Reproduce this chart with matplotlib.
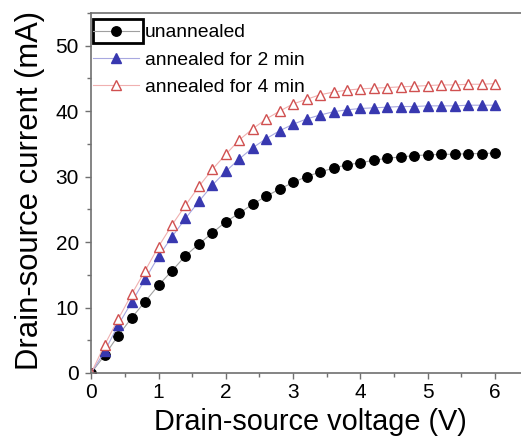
import matplotlib
matplotlib.use("Agg")
import matplotlib.pyplot as plt
from matplotlib.patches import Rectangle
from matplotlib.ticker import MultipleLocator

plt.rcParams['font.family'] = ['Liberation Sans', 'DejaVu Sans']

# drain-source voltage (V)
voltage = [0.0, 0.2, 0.4, 0.6, 0.8, 1.0, 1.2, 1.4, 1.6, 1.8, 2.0,
           2.2, 2.4, 2.6, 2.8, 3.0, 3.2, 3.4, 3.6, 3.8, 4.0,
           4.2, 4.4, 4.6, 4.8, 5.0, 5.2, 5.4, 5.6, 5.8, 6.0]

# drain-source current (mA)
unannealed = [0.0, 2.7, 5.7, 8.4, 10.9, 13.4, 15.6, 17.9, 19.7, 21.4, 23.1,
              24.4, 25.8, 27.0, 28.1, 29.1, 30.0, 30.7, 31.3, 31.8, 32.1,
              32.5, 32.8, 33.0, 33.2, 33.3, 33.4, 33.4, 33.5, 33.5, 33.6]
annealed_2min = [0.0, 3.3, 7.3, 10.8, 14.3, 17.8, 20.8, 23.6, 26.2, 28.7, 30.8,
                 32.7, 34.4, 35.8, 37.0, 38.0, 38.8, 39.4, 39.9, 40.2, 40.4,
                 40.5, 40.6, 40.7, 40.7, 40.8, 40.8, 40.8, 40.9, 40.9, 40.9]
annealed_4min = [0.0, 4.3, 8.2, 12.0, 15.6, 19.3, 22.6, 25.6, 28.5, 31.1, 33.4,
                 35.6, 37.3, 38.8, 40.0, 41.1, 41.8, 42.5, 42.9, 43.2, 43.4,
                 43.5, 43.6, 43.7, 43.8, 43.9, 44.0, 44.0, 44.1, 44.1, 44.2]

fig = plt.figure(figsize=(5.21, 4.37), dpi=100)
# right spine falls just outside the picture, as in the original crop
ax = fig.add_axes([0.175, 0.1465, 0.840, 0.824])

ax.plot(voltage, unannealed, '-', color='#a0a0a0', lw=0.8,
        marker='o', ms=6.8, mfc='black', mec='black', label='unannealed')
ax.plot(voltage, annealed_2min, '-', color='#a8a8e0', lw=0.8,
        marker='^', ms=7.2, mfc='#3838b0', mec='#3838b0', label='annealed for 2 min')
ax.plot(voltage, annealed_4min, '-', color='#f0b0b0', lw=0.8,
        marker='^', ms=7.2, mfc='white', mec='#d05050', mew=1.0,
        label='annealed for 4 min')

ax.set_xlim(0, 6.5)
ax.set_ylim(0, 55)
ax.xaxis.set_major_locator(MultipleLocator(1))
ax.xaxis.set_minor_locator(MultipleLocator(0.5))
ax.yaxis.set_major_locator(MultipleLocator(10))
ax.yaxis.set_minor_locator(MultipleLocator(5))

for s in ax.spines.values():
    s.set_color('#707070')
    s.set_linewidth(1.2)
ax.tick_params(which='major', direction='out', length=4.3, width=1, color='#707070',
               labelsize=15)
ax.tick_params(axis='x', which='major', pad=3)
ax.tick_params(axis='y', which='major', pad=4.5)
ax.tick_params(which='minor', direction='out', length=2.9, width=1, color='#707070')

ax.set_xlabel('Drain-source voltage (V)', fontsize=20.8, labelpad=4)
ax.set_ylabel('Drain-source current (mA)', fontsize=22.3)
ax.yaxis.set_label_coords(-0.105, 0.508)

leg = ax.legend(loc='upper left', bbox_to_anchor=(0.0, 0.975), frameon=False,
                fontsize=13.9, handlelength=2.4, handletextpad=0.3,
                borderaxespad=0.0, borderpad=0.1, labelspacing=0.5)

# selection box around the first legend symbol
ax.add_patch(Rectangle((0.004, 0.9175), 0.114, 0.066, transform=ax.transAxes,
                       fill=False, ec='black', lw=2, clip_on=False, zorder=5))

fig.savefig('out.png', dpi=100)
